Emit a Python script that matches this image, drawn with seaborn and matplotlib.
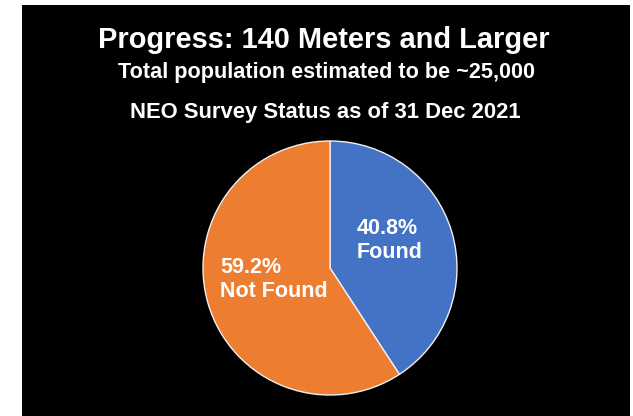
import matplotlib
matplotlib.use("Agg")
import matplotlib.pyplot as plt
from matplotlib.patches import Rectangle
import seaborn as sns

# Survey status data
categories = ["Found", "Not Found"]
shares = [40.8, 59.2]
colors = ["#4472C4", "#ED7D31"]

title = "Progress: 140 Meters and Larger"
subtitle = "Total population estimated to be ~25,000"
status_line = "NEO Survey Status as of 31 Dec 2021"

sns.set_theme(style="dark")
plt.rcParams["font.family"] = ["Liberation Sans", "DejaVu Sans"]

W, H = 633, 416
fig = plt.figure(figsize=(W / 100, H / 100), dpi=100, facecolor="white")

# black slide panel behind everything
fig.patches.append(Rectangle((22 / W, 0), 608 / W, 411 / H, transform=fig.transFigure,
                             facecolor="black", edgecolor="none", zorder=-10))

# pie axes centred at (330, 268) px with radius 127 px
cx, cy, r = 330, 268, 127
ax = fig.add_axes([(cx - r) / W, (H - cy - r) / H, 2 * r / W, 2 * r / H])
ax.set_zorder(5)
ax.set_facecolor("none")
ax.pie(shares, colors=colors, startangle=90, counterclock=False, radius=1,
       wedgeprops=dict(edgecolor="#f0f0f0", linewidth=1.0))
ax.set_xlim(-1.0, 1.0)
ax.set_ylim(-1.0, 1.0)
ax.set_aspect("auto")
ax.axis("off")

def px(x, y):
    return (x - cx) / r, (cy - y) / r

label_pos = {"Found": (357, 234), "Not Found": (220, 273)}
for name, val in zip(categories, shares):
    x0, y0 = label_pos[name]
    lx, ly = px(x0, y0)
    ax.text(lx, ly, f"{val:.1f}%", color="white", fontsize=15.5, fontweight="bold",
            ha="left", va="baseline")
    lx2, ly2 = px(x0, y0 + 24)
    ax.text(lx2, ly2, name, color="white", fontsize=15.5, fontweight="bold",
            ha="left", va="baseline")

fig.text(324 / W, 1 - 48 / H, title, color="white", fontsize=20.9, fontweight="bold",
         ha="center", va="baseline")
fig.text(327 / W, 1 - 78 / H, subtitle, color="white", fontsize=15.6, fontweight="bold",
         ha="center", va="baseline")
fig.text(325 / W, 1 - 118 / H, status_line, color="white", fontsize=15.8, fontweight="bold",
         ha="center", va="baseline")

fig.savefig("out.png", dpi=100, facecolor="white")
